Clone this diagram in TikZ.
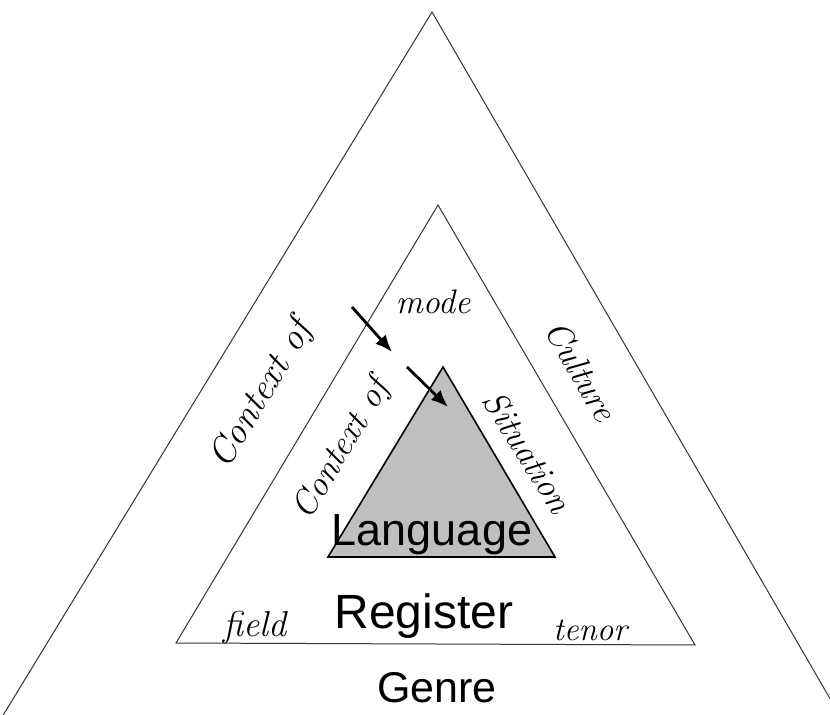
\documentclass[tikz,border=0pt]{standalone}
\usepackage{fontspec}
\newfontfamily\helv{Liberation Sans}
\usetikzlibrary{arrows.meta}
\begin{document}
\begin{tikzpicture}[x=0.5pt,y=-0.5pt,
  line/.style={draw=black!80,line width=0.5pt},
  serifit/.style={font=\itshape\fontsize{#1}{#1}\selectfont,inner sep=0pt},
  sanslab/.style={font=\helv\fontsize{#1}{#1}\selectfont,inner sep=0pt},
  bigarrow/.style={line width=1.4pt,-{Latex[length=8.5pt,width=7pt]}}]
\useasboundingbox (0,0) rectangle (830,715);
% outer triangle (Context of Culture)
\coordinate (oA) at (432,12);
\coordinate (oL) at (-12,740);
\coordinate (oR) at (854,740);
\begin{scope}
\clip (0,0) rectangle (830,715);
\draw[line] (oL) -- (oA) -- (oR);
\end{scope}
% middle triangle (Context of Situation)
\coordinate (mA) at (438,205);
\coordinate (mL) at (176,643);
\coordinate (mR) at (695,645);
\draw[line] (mA) -- (mL) -- (mR) -- cycle;
% inner triangle (Language)
\coordinate (iA) at (443,367);
\coordinate (iL) at (328,557);
\coordinate (iR) at (555,557);
\filldraw[fill=gray!50,draw=black,line width=0.8pt] (iA) -- (iL) -- (iR) -- cycle;
% labels
\node[serifit=18.5pt,rotate=59] (ctxc) at (262,395) {Context of};
\node[serifit=17.5pt,rotate=-60] (cult) at (581,371) {Culture};
\node[serifit=17.5pt,rotate=59] (ctxs) at (342,450) {Context of};
\node[serifit=17.5pt,rotate=-58] (situ) at (528,452) {Situation};
\node[serifit=17pt] (mode) at (433,302) {mode};
\node[serifit=18pt] (field) at (255,628) {field};
\node[serifit=16.5pt] (tenor) at (590,630) {tenor};
\node[sanslab=22.5pt] (lang) at (432,535) {Language};
\node[sanslab=24pt] (reg) at (424,616) {Register};
\node[sanslab=21.5pt] (genre) at (437,688) {Genre};
% arrows
\coordinate (a1s) at (352,307);
\coordinate (a1e) at (392,352);
\coordinate (a2s) at (407,367);
\coordinate (a2e) at (448,407);
\draw[bigarrow] (a1s) -- (a1e);
\draw[bigarrow] (a2s) -- (a2e);
\end{tikzpicture}
\end{document}
